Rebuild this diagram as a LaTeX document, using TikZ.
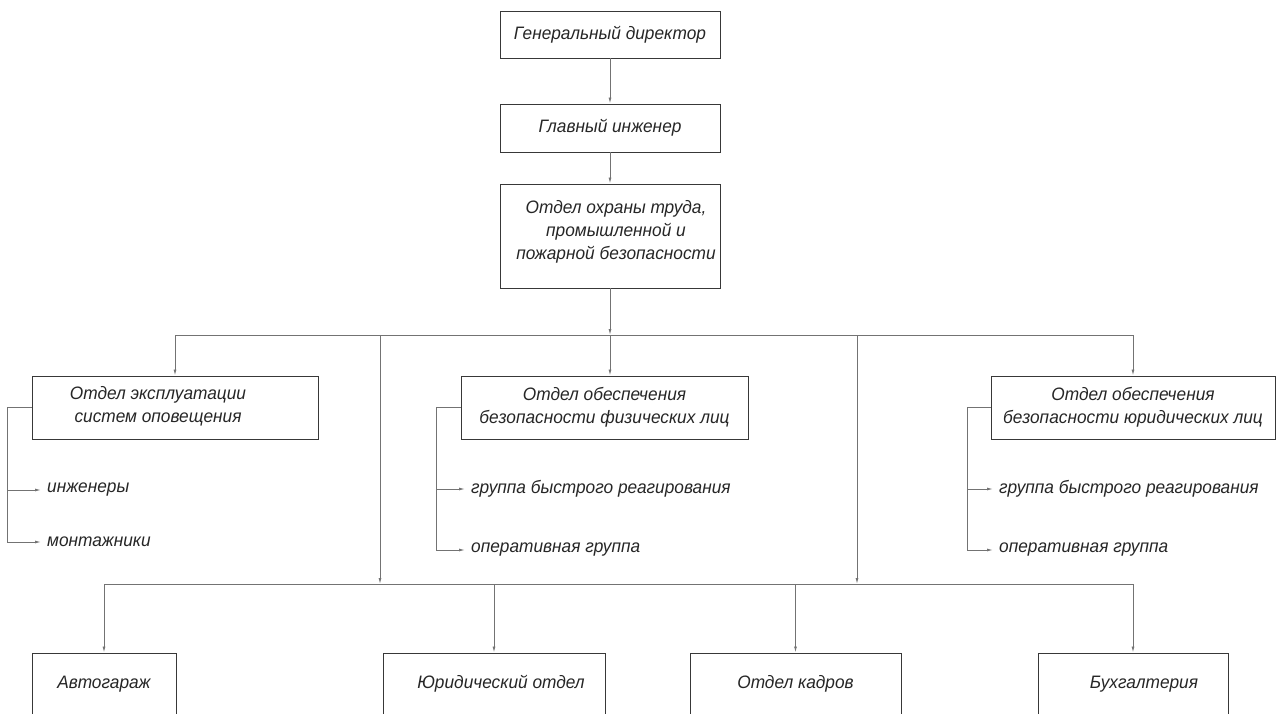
\documentclass[tikz,border=0pt]{standalone}
\usepackage{fontspec}
\setmainfont{Liberation Sans}[FakeStretch=0.96]
\usetikzlibrary{arrows.meta}
\begin{document}
\begin{tikzpicture}[x=1pt,y=-1pt,
  font=\itshape\fontsize{18}{23}\selectfont,
  every node/.style={text=black!85},
  boxst/.style={draw=black!78, line width=0.95pt, rectangle, inner sep=0pt, align=center},
  txt/.style={inner sep=0pt, align=center},
  item/.style={anchor=west, inner xsep=6pt, inner ysep=2pt},
  conn/.style={draw=black!55, line width=0.9pt},
  conarr/.style={conn, -{Latex[length=6pt,width=3pt]}}]
\useasboundingbox (0,0) rectangle (1276,713);
\clip (0,0) rectangle (1276,713);

% top chain
\node[boxst, minimum width=220pt, minimum height=47pt] (gd) at (610,34.5) {Генеральный директор};
\node[boxst, minimum width=220pt, minimum height=48pt] (gi) at (610,128) {Главный инженер};
\node[boxst, minimum width=220pt, minimum height=104pt] (otd) at (610,236) {};
\node[txt] (otdt) at (616,232) {Отдел охраны труда,\\промышленной и\\пожарной безопасности};

% middle boxes
\node[boxst, minimum width=286pt, minimum height=63pt] (boxL) at (175,407.5) {};
\node[txt] (boxLt) at (158,406) {Отдел эксплуатации\\систем оповещения};
\node[boxst, minimum width=287pt, minimum height=63pt] (boxM) at (604.5,407.5) {Отдел обеспечения\\безопасности физических лиц};
\node[boxst, minimum width=284pt, minimum height=63pt] (boxR) at (1133,407.5) {Отдел обеспечения\\безопасности юридических лиц};

% sub items
\node[item] (inz) at (41,490) {инженеры};
\node[item] (mont) at (41,542) {монтажники};
\node[item] (grp1) at (465,489) {группа быстрого реагирования};
\node[item] (op1) at (465,550) {оперативная группа};
\node[item] (grp2) at (993,489) {группа быстрого реагирования};
\node[item] (op2) at (993,550) {оперативная группа};

% bottom boxes
\node[boxst, minimum width=144pt, minimum height=62pt] (avto) at (104,684) {Автогараж};
\node[boxst, minimum width=222pt, minimum height=62pt] (jur) at (494,684) {\hspace*{14pt}Юридический отдел};
\node[boxst, minimum width=211pt, minimum height=62pt] (kadr) at (795.5,684) {Отдел кадров};
\node[boxst, minimum width=190pt, minimum height=62pt] (buh) at (1133,684) {\hspace*{22pt}Бухгалтерия};

% coordinates of buses
\coordinate (b1) at (610,335);
\coordinate (v1) at (380,335);
\coordinate (v2) at (857,335);
\coordinate (w1) at (380,584);
\coordinate (w2) at (857,584);

% connectors top
\draw[conarr] (gd) -- (gi);
\draw[conarr] (gi) -- (otd);
\draw[conarr] (otd.south) -- (b1);
\draw[conn] (boxL.north |- b1) -- (boxR.north |- b1);
\draw[conarr] (boxL.north |- b1) -- (boxL.north);
\draw[conarr] (b1) -- (b1 |- boxM.north);
\draw[conarr] (boxR.north |- b1) -- (boxR.north);

% brackets
\draw[conarr] (boxL.west) -- ++(-24,0) |- (inz.west);
\draw[conarr] (boxL.west) ++(-24,0) |- (mont.west);
\draw[conarr] (boxM.west) -- ++(-24,0) |- (grp1.west);
\draw[conarr] (boxM.west) ++(-24,0) |- (op1.west);
\draw[conarr] (boxR.west) -- ++(-23,0) |- (grp2.west);
\draw[conarr] (boxR.west) ++(-23,0) |- (op2.west);

% lower bus
\draw[conarr] (v1) -- (w1);
\draw[conarr] (v2) -- (w2);
\draw[conn] (avto.north |- w1) -- (buh.north |- w1);
\draw[conarr] (avto.north |- w1) -- (avto.north);
\draw[conarr] (jur.north |- w1) -- (jur.north);
\draw[conarr] (kadr.north |- w1) -- (kadr.north);
\draw[conarr] (buh.north |- w1) -- (buh.north);
\end{tikzpicture}
\end{document}
